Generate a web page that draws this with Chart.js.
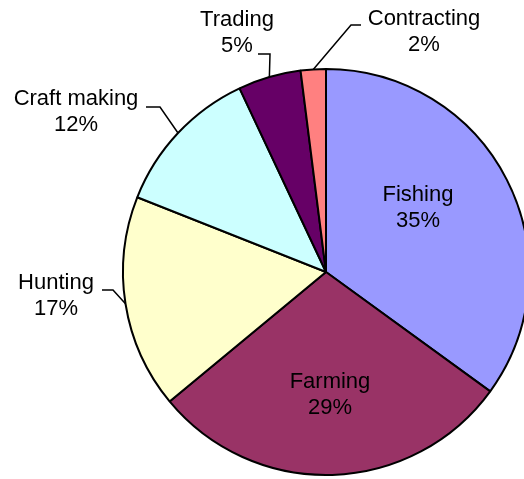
<!DOCTYPE html>
<html>
<head>
<meta charset="utf-8">
<script src="https://cdn.jsdelivr.net/npm/chart.js@4"></script>
<style>
  html, body { margin: 0; padding: 0; background: #fff; }
  #wrap { width: 524px; height: 479px; }
</style>
</head>
<body>
<div id="wrap"><canvas id="pie" width="524" height="479"></canvas></div>
<script>
// Share of activity by type (percent)
const categories = ['Fishing', 'Farming', 'Hunting', 'Craft making', 'Trading', 'Contracting'];
const shares = [35, 29, 17, 12, 5, 2];
const sliceColors = ['#9999ff', '#993366', '#ffffcc', '#ccffff', '#660066', '#ff8080'];

// Where each label block sits; outside labels also get an elbow leader line
const labelLayout = [
  { x: 418, y: 208 },
  { x: 330, y: 395 },
  { x: 56, y: 296, elbow: [113, 290], end: 102 },
  { x: 76, y: 112, elbow: [160, 107], end: 146 },
  { x: 237, y: 33, elbow: [270, 54], end: 258 },
  { x: 424, y: 32, elbow: [351, 25], end: 361 }
];

const sliceLabels = {
  id: 'sliceLabels',
  afterDatasetsDraw(chart) {
    const ctx = chart.ctx;
    const arcs = chart.getDatasetMeta(0).data;
    ctx.save();
    ctx.font = '22px "Liberation Sans", Arial, sans-serif';
    ctx.fillStyle = '#000';
    ctx.textAlign = 'center';
    ctx.textBaseline = 'middle';
    ctx.strokeStyle = '#000';
    ctx.lineWidth = 1.5;
    arcs.forEach((arc, i) => {
      const lay = labelLayout[i];
      if (lay.elbow) {
        const p = arc.getProps(['x', 'y', 'startAngle', 'endAngle', 'outerRadius'], true);
        const mid = (p.startAngle + p.endAngle) / 2;
        const sx = p.x + Math.cos(mid) * p.outerRadius;
        const sy = p.y + Math.sin(mid) * p.outerRadius;
        ctx.beginPath();
        ctx.moveTo(sx, sy);
        ctx.lineTo(lay.elbow[0], lay.elbow[1]);
        ctx.lineTo(lay.end, lay.elbow[1]);
        ctx.stroke();
      }
      ctx.fillText(categories[i], lay.x, lay.y - 13);
      ctx.fillText(shares[i] + '%', lay.x, lay.y + 13);
    });
    ctx.restore();
  }
};

const ctx = document.getElementById('pie').getContext('2d');
new Chart(ctx, {
  type: 'pie',
  data: {
    labels: categories,
    datasets: [{
      data: shares,
      backgroundColor: sliceColors,
      borderColor: '#000',
      borderWidth: 2,
      radius: 203
    }]
  },
  options: {
    responsive: false,
    animation: false,
    layout: { padding: { left: 128, right: 0, top: 65, bottom: 0 } },
    plugins: {
      legend: { display: false },
      tooltip: { enabled: false }
    }
  },
  plugins: [sliceLabels]
});
</script>
</body>
</html>
